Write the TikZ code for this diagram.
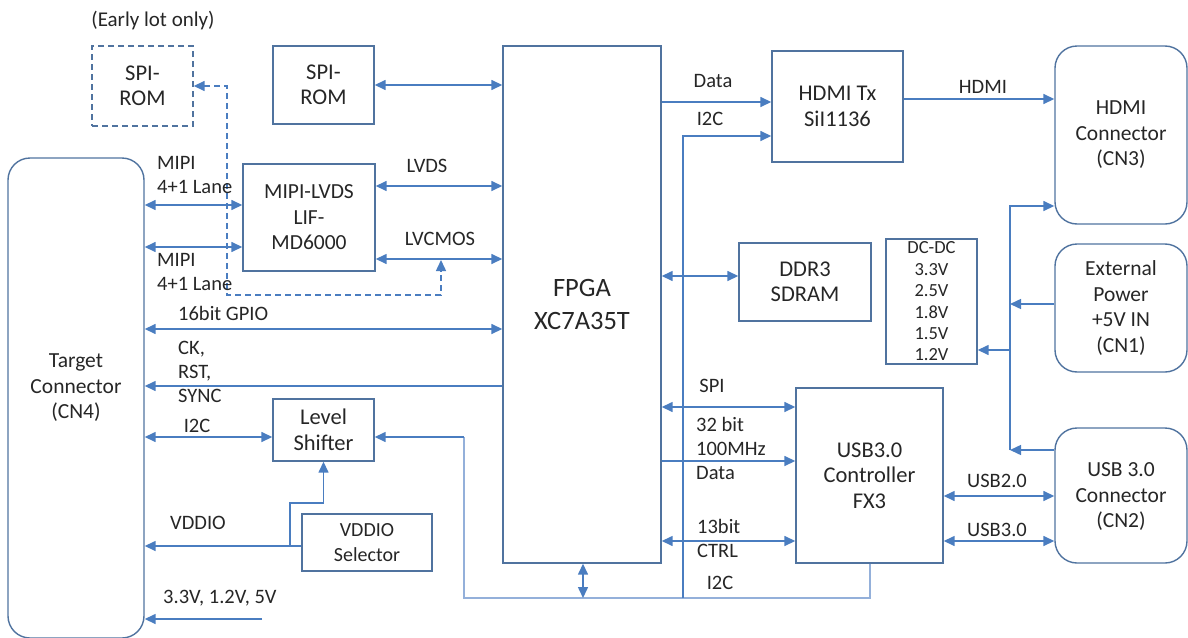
\documentclass[tikz,border=0pt]{standalone}
\usepackage{fontspec}
\setmainfont{Carlito}
\usetikzlibrary{arrows.meta}
\definecolor{boxc}{HTML}{50739F}
\definecolor{arrc}{HTML}{4A7DC0}
\definecolor{busc}{HTML}{94B0DA}
\definecolor{txt}{HTML}{262626}
\tikzset{
  box/.style={draw=boxc, line width=1.4pt, text=txt, align=center, inner sep=0pt,
    font=\fontsize{22.5}{25.5}\selectfont},
  conn/.style={box, rounded corners=22pt, font=\fontsize{21.5}{25.5}\selectfont},
  lbl/.style={text=txt, inner sep=0pt, font=\fontsize{20.5}{24}\selectfont},
  tipa/.tip={Triangle[length=11pt,width=10pt]},
  arr/.style={draw=arrc, line width=1.5pt, -tipa},
  biarr/.style={draw=arrc, line width=1.5pt, tipa-tipa},
  busline/.style={draw=busc, line width=1.8pt},
  dashline/.style={dash pattern=on 6pt off 4pt},
}
\begin{document}
\begin{tikzpicture}[x=1pt,y=-1pt]
\useasboundingbox (0,0) rectangle (1188,637);
\clip (0,0) rectangle (1188,637);

% ---- boxes ----
\node[box, dashline, minimum width=101pt, minimum height=80pt] (spiromE) at (142.5,86) {SPI-\\ROM};
\node[box, minimum width=101pt, minimum height=78pt] (spirom) at (323.5,85) {SPI-\\ROM};
\node[conn, minimum width=136pt, minimum height=480pt] (target) at (76,398) {};
\node[lbl, align=center, font=\fontsize{21.5}{25.5}\selectfont] (targetT) at (76,388) {Target\\Connector\\(CN4)};
\node[box, font=\fontsize{21.5}{25.5}\selectfont, minimum width=132pt, minimum height=107pt] (mipi) at (309,217.5) {MIPI-LVDS\\LIF-\\MD6000};
\node[box, font=\fontsize{26.5}{33}\selectfont, minimum width=158pt, minimum height=517pt] (fpga) at (582,304.5) {FPGA\\XC7A35T};
\node[box, minimum width=131pt, minimum height=111pt] (hdmitx) at (837.5,106.5) {HDMI Tx\\SiI1136};
\node[box, minimum width=132pt, minimum height=78pt] (ddr) at (805,282) {DDR3\\SDRAM};
\node[box, minimum width=101pt, minimum height=62pt] (lvl) at (323.5,430) {Level\\Shifter};
\node[box, font=\fontsize{20}{25}\selectfont, minimum width=130pt, minimum height=57pt] (vsel) at (367,542.5) {VDDIO\\Selector};
\node[box, minimum width=147pt, minimum height=175pt] (fx3) at (869.5,475.5) {USB3.0\\Controller\\FX3};
\node[box, font=\fontsize{18.5}{21.4}\selectfont, minimum width=91pt, minimum height=125pt] (dcdc) at (931.5,301.5) {DC-DC\\3.3V\\2.5V\\1.8V\\1.5V\\1.2V};
\node[conn, minimum width=132pt, minimum height=178pt] (hdmic) at (1121,135) {HDMI\\Connector\\(CN3)};
\node[conn, minimum width=132pt, minimum height=128pt] (extp) at (1121,308) {External\\Power\\+5V IN\\(CN1)};
\node[conn, minimum width=132pt, minimum height=135pt] (usbc) at (1121,495.5) {};
\node[lbl, align=center, font=\fontsize{21.5}{25.5}\selectfont] (usbcT) at (1121,497) {USB 3.0\\Connector\\(CN2)};

% ---- coordinates ----
\coordinate (busL) at (464,598);
\coordinate (busR) at (870,598);
\coordinate (busF) at (583,598);
\coordinate (busI) at (683,598);
\coordinate (pwrT) at (1010,206);
\coordinate (pwrB) at (1010,450);
\coordinate (vj) at (290,546);
\coordinate (vsrc) at (262,619);
\coordinate (dashT) at (441,260);

% ---- connectors ----
\draw[biarr] (spirom.east |- 0,85) -- (fpga.west |- 0,85);
\draw[biarr] (target.east |- 0,205) -- (mipi.west |- 0,205);
\draw[biarr] (target.east |- 0,247) -- (mipi.west |- 0,247);
\draw[biarr] (mipi.east |- 0,186) -- (fpga.west |- 0,186);
\draw[biarr] (mipi.east |- 0,259) -- (fpga.west |- 0,259);
\draw[biarr] (target.east |- 0,329) -- (fpga.west |- 0,329);
\draw[arr] (fpga.west |- 0,386) -- (target.east |- 0,386);
\draw[biarr] (target.east |- 0,437) -- (lvl.west |- 0,437);
\draw[arr] (vsel.west |- vj) -- (target.east |- vj);
\draw[arr] (vj) -- (290,503) -- (323.5,503) -- (lvl.south);
\draw[arr] (vsrc) -- (target.east |- vsrc);
\draw[biarr, dashline] (spiromE.east |- 0,86) -- (227,86) -- (227,295) -- (441,295) -- (dashT);

% bus
\draw[busline] (fx3.south -| busR) -- (busR) -- (busL) -- (464,437);
\draw[arr] (464,437) -- (lvl.east |- 0,437);
\draw[biarr] (fpga.south -| busF) -- (busF);
\draw[arr] (busI) -- (683,136) -- (hdmitx.west |- 0,136);

\draw[arr] (fpga.east |- 0,102) -- (hdmitx.west |- 0,102);
\draw[arr] (hdmitx.east |- 0,99) -- (hdmic.west |- 0,99);
\draw[biarr] (fpga.east |- 0,276) -- (ddr.west |- 0,276);
\draw[biarr] (fpga.east |- 0,407) -- (fx3.west |- 0,407);
\draw[arr] (fpga.east |- 0,461) -- (fx3.west |- 0,461);
\draw[biarr] (fpga.east |- 0,541) -- (fx3.west |- 0,541);
\draw[biarr] (fx3.east |- 0,496) -- (usbc.west |- 0,496);
\draw[biarr] (fx3.east |- 0,541) -- (usbc.west |- 0,541);

% power
\draw[arr] (pwrB) -- (pwrT) -- (hdmic.west |- pwrT);
\draw[arr] (extp.west |- 0,304) -- (1010,304);
\draw[arr] (usbc.west |- pwrB) -- (pwrB);
\draw[arr] (1010,350) -- (dcdc.east |- 0,350);

% ---- labels ----
\node[lbl, font=\fontsize{21}{24}\selectfont] (early) at (153,21) {(Early lot only)};
\node[lbl, anchor=west, align=left] (mipiA) at (157,175) {MIPI\\4+1 Lane};
\node[lbl, anchor=west, align=left] (mipiB) at (157,272) {MIPI\\4+1 Lane};
\node[lbl] (lvds) at (427,166) {LVDS};
\node[lbl] (lvcmos) at (440,239) {LVCMOS};
\node[lbl, anchor=west] (gpio) at (178,313) {16bit GPIO};
\node[lbl, anchor=west, align=left] (ck) at (178,372) {CK,\\RST,\\SYNC};
\node[lbl] (i2cA) at (197,426) {I2C};
\node[lbl] (vddio) at (198,523) {VDDIO};
\node[lbl, anchor=west] (volts) at (163,598) {3.3V, 1.2V, 5V};
\node[lbl] (data) at (713,81) {Data};
\node[lbl] (i2cB) at (710,119) {I2C};
\node[lbl] (spi) at (712,386) {SPI};
\node[lbl, anchor=west, align=left] (d32) at (696,448) {32 bit\\100MHz\\Data};
\node[lbl, anchor=west, align=left] (ctrl) at (697,538.5) {13bit\\CTRL};
\node[lbl] (i2cC) at (720,583) {I2C};
\node[lbl] (hdmi) at (983,87) {HDMI};
\node[lbl] (usb2) at (997,481) {USB2.0};
\node[lbl] (usb3) at (997,530) {USB3.0};
\end{tikzpicture}
\end{document}
